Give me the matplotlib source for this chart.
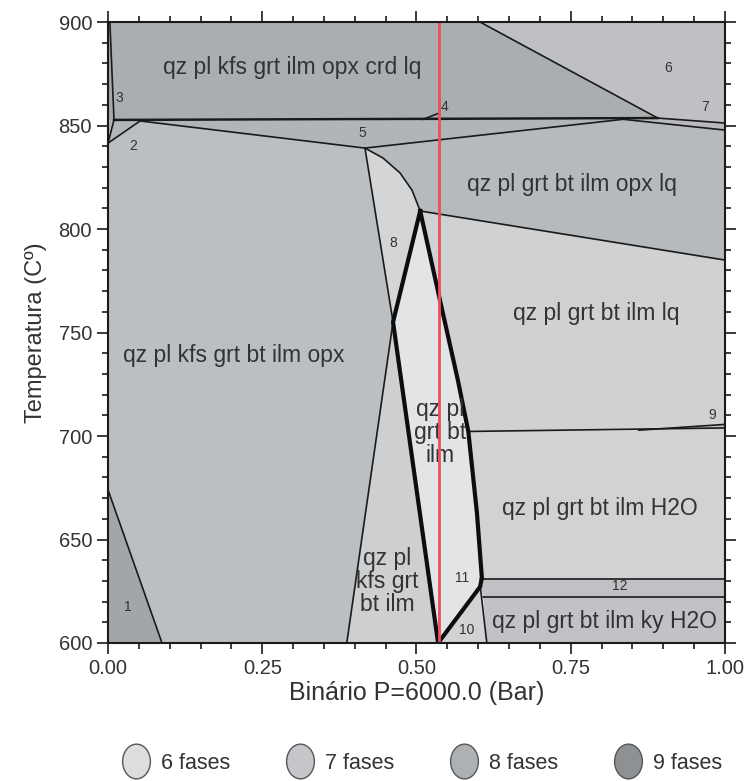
import matplotlib
matplotlib.use("Agg")
import matplotlib.pyplot as plt
from matplotlib.lines import Line2D
from matplotlib.markers import MarkerStyle
from matplotlib.transforms import Affine2D
from matplotlib.ticker import MultipleLocator

plt.rcParams["font.family"] = ["Liberation Sans", "DejaVu Sans"]

# ---- key invariant points (composition, temperature) ----
J5 = (0.4165, 839.1)
J6 = (0.891, 853.6)
J8 = (0.506, 808.7)
J11 = (0.606, 631.4)
X = (0.462, 755.1)          # crossing of the two steep boundaries
LENS_BOT = (0.535, 600.0)

# curved boundary from J5 up to J8
curve58_x = [0.4165, 0.4457, 0.4733, 0.4927, 0.506]
curve58_T = [839.1, 834.3, 827.1, 818.8, 808.7]

# right (thick) side of the central field, J8 -> J11 -> lens bottom
lens_right_x = [0.506, 0.538, 0.567, 0.584, 0.598, 0.606, 0.603, 0.535]
lens_right_T = [808.7, 765.7, 727.1, 702.2, 662.8, 631.4, 627.1, 600.0]

# phase fields: (vertex x list, vertex T list, fill colour)
fields = {
    "crd_lq": ([0.003, 0.603, 0.891, 0.0097], [900, 900, 853.6, 852.7], "#abaeb1"),
    "f6": ([0.603, 1.0, 1.0, 0.891], [900, 900, 851.2, 853.6], "#bec0c3"),
    "f3": ([0.0, 0.003, 0.0097, 0.0], [900, 900, 852.7, 852.7], "#a6a9ac"),
    "f2": ([0.0, 0.0097, 0.052, 0.0], [852.7, 852.7, 852.2, 841.5], "#b3b6b9"),
    "f5": ([0.052, 0.835, 0.4165], [852.2, 853.0, 839.1], "#b2b5b8"),
    "f7": ([0.835, 0.891, 1.0, 1.0], [853.0, 853.6, 851.2, 847.8], "#b8babd"),
    "opx_left": ([0.0, 0.052, 0.4165, 0.462, 0.387, 0.0875, 0.0],
                 [841.5, 852.2, 839.1, 755.1, 600, 600, 674], "#bcbfc2"),
    "f1": ([0.0, 0.0875, 0.0], [674, 600, 600], "#a3a6a9"),
    "opx_lq": (curve58_x + [1.0, 1.0, 0.835], curve58_T + [785.0, 847.8, 853.0], "#b7babd"),
    "f8": (curve58_x + [0.462], curve58_T + [755.1], "#d4d5d7"),
    "lq": ([0.506, 1.0, 1.0, 0.86, 0.584, 0.567, 0.538],
           [808.7, 785.0, 705.6, 702.8, 702.2, 727.1, 765.7], "#cfd1d3"),
    "f9": ([0.86, 1.0, 1.0], [702.8, 705.6, 703.9], "#c4c6c9"),
    "h2o": ([0.584, 0.86, 1.0, 1.0, 0.606, 0.598],
            [702.2, 702.8, 703.9, 630.8, 630.8, 662.8], "#d0d2d4"),
    "f12": ([0.603, 1.0, 1.0, 0.607], [630.8, 630.8, 622.4, 622.4], "#bfc1c4"),
    "ky_h2o": ([0.607, 1.0, 1.0, 0.614], [622.4, 622.4, 600, 600], "#c0c2c5"),
    "f10": ([0.603, 0.614, 0.535], [627.1, 600, 600], "#d1d2d4"),
    "kfs_bt": ([0.462, 0.535, 0.387], [755.1, 600, 600], "#cdcfd1"),
    "central": (lens_right_x + [0.462], lens_right_T + [755.1], "#e3e4e6"),
}

# thin boundaries
thin_lines = [
    ([0.003, 0.0097], [900, 852.7]),
    ([0.0097, 0.0], [852.7, 841.5]),
    ([0.052, 0.0], [852.2, 841.5]),
    ([0.603, 0.891], [900, 853.6]),
    ([0.891, 1.0], [853.6, 851.2]),
    ([0.052, 0.4165, 0.835, 1.0], [852.2, 839.1, 853.0, 847.8]),
    (curve58_x, curve58_T),
    ([0.506, 1.0], [808.7, 785.0]),
    ([0.4165, 0.462, 0.387], [839.1, 755.1, 600]),
    ([0.0, 0.0875], [674, 600]),
    ([0.584, 1.0], [702.2, 703.9]),
    ([0.86, 1.0], [702.8, 705.6]),
    ([0.603, 1.0], [630.8, 630.8]),
    ([0.607, 1.0], [622.4, 622.4]),
    ([0.603, 0.614], [628.5, 600]),
    ([0.51, 0.535], [852.9, 855.8]),
]
main_isotherm = ([0.0097, 0.891], [852.7, 853.6])
# thick boundaries of the central field
thick_lines = [
    ([0.506, 0.462, 0.535], [808.7, 755.1, 600]),
    (lens_right_x, lens_right_T),
]

section_x = 0.536

BIG, SMALL = 16.5, 10
field_labels = [
    ("qz pl kfs grt ilm opx crd lq", 0.298, 877.8, BIG),
    ("qz pl grt bt ilm opx lq", 0.752, 821.3, BIG),
    ("qz pl kfs grt bt ilm opx", 0.204, 739.1, BIG),
    ("qz pl grt bt ilm lq", 0.791, 759.4, BIG),
    ("qz pl\ngrt bt\nilm", 0.538, 701.9, BIG),
    ("qz pl grt bt ilm H2O", 0.797, 665.2, BIG),
    ("qz pl\nkfs grt\nbt ilm", 0.452, 629.5, BIG),
    ("qz pl grt bt ilm ky H2O", 0.805, 610.6, BIG),
    ("1", 0.0324, 617.4, SMALL), ("2", 0.0405, 840.1, SMALL), ("3", 0.018, 863.3, SMALL),
    ("4", 0.546, 858.9, SMALL), ("5", 0.4117, 846.4, SMALL), ("6", 0.9076, 877.8, SMALL),
    ("7", 0.9676, 858.9, SMALL), ("8", 0.462, 793.2, SMALL), ("9", 0.979, 710.0, SMALL),
    ("10", 0.582, 606.3, SMALL), ("11", 0.574, 631.4, SMALL), ("12", 0.83, 627.5, SMALL),
]

legend_names = ["6 fases", "7 fases", "8 fases", "9 fases"]
legend_colors = ["#dcdddf", "#c4c6c9", "#aeb1b4", "#8e9194"]

fig = plt.figure(figsize=(7.47, 7.81), dpi=100)
ax = fig.add_axes([0.1446, 0.1767, 0.8259, 0.7951])

for xs, ts, col in fields.values():
    ax.fill(xs, ts, color=col, lw=0, zorder=1)

for xs, ts in thin_lines:
    ax.plot(xs, ts, color="#1a1a1a", lw=1.2, zorder=3, solid_capstyle="round")
ax.plot(*main_isotherm, color="#1a1a1a", lw=1.8, zorder=3)
for xs, ts in thick_lines:
    ax.plot(xs, ts, color="#0d0d0d", lw=3.0, zorder=4, solid_joinstyle="round")

for txt, x, t, fs in field_labels:
    ax.text(x, t, txt, ha="center", va="center", fontsize=fs, color="#333333",
            linespacing=1.0, zorder=6)

# isopleth section drawn on top of everything inside the axes
ax.axvline(section_x, color="#e8505a", lw=2.0, zorder=8)

ax.set_xlim(0, 1)
ax.set_ylim(600, 900)
ax.set_xticks([0.0, 0.25, 0.5, 0.75, 1.0])
ax.set_xticklabels(["0.00", "0.25", "0.50", "0.75", "1.00"])
ax.set_yticks([600, 650, 700, 750, 800, 850, 900])
ax.xaxis.set_minor_locator(MultipleLocator(0.05))
ax.yaxis.set_minor_locator(MultipleLocator(10))
ax.tick_params(which="both", direction="out", top=True, right=True,
               labelsize=14.5, labelcolor="#333333", color="#1a1a1a", width=1.2)
ax.tick_params(which="major", length=8)
ax.tick_params(which="minor", length=4)
for sp in ax.spines.values():
    sp.set_linewidth(1.5)
    sp.set_color("#1a1a1a")
    sp.set_zorder(9)

ax.set_xlabel("Binário P=6000.0 (Bar)", fontsize=18, color="#333333", labelpad=2)
ax.set_ylabel("Temperatura (Cº)", fontsize=17, color="#333333", labelpad=8)

oval = MarkerStyle("o", transform=Affine2D().scale(0.8, 1.0))
handles = [Line2D([], [], ls="none", marker=oval, markersize=25,
                  markerfacecolor=c, markeredgecolor="#555555", markeredgewidth=1.0)
           for c in legend_colors]
fig.legend(handles, legend_names, loc="center", bbox_to_anchor=(0.565, 0.023),
           ncol=4, frameon=False, fontsize=15.5, handletextpad=0.5,
           columnspacing=2.6, handlelength=1.3, labelcolor="#333333")

fig.savefig("out.png", dpi=100)
